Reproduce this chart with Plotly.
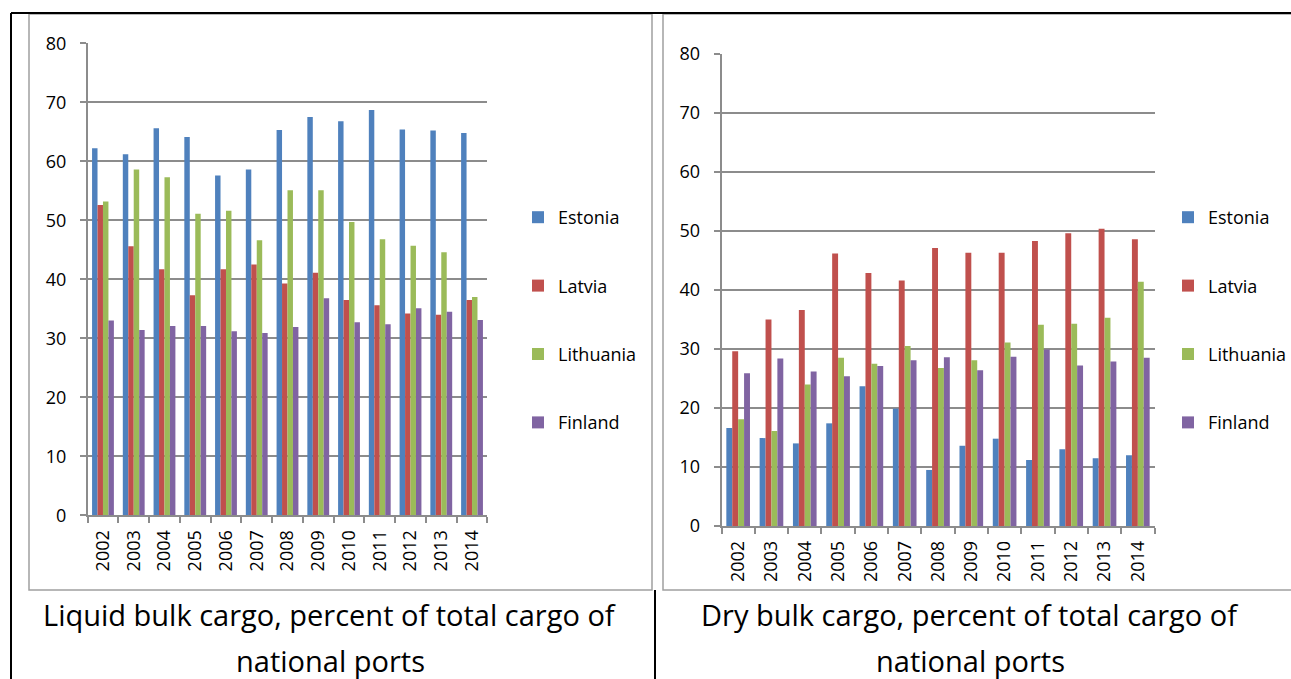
import plotly.graph_objects as go
from plotly.subplots import make_subplots

years = ['2002', '2003', '2004', '2005', '2006', '2007', '2008',
         '2009', '2010', '2011', '2012', '2013', '2014']
countries = ['Estonia', 'Latvia', 'Lithuania', 'Finland']
colors = ['#4F81BD', '#C0504D', '#9BBB59', '#8064A2']

# liquid bulk cargo, % of total cargo of national ports
liquid_estonia = [62.2, 61.2, 65.6, 64.1, 57.6, 58.6, 65.3, 67.5, 66.8, 68.7, 65.4, 65.2, 64.8]
liquid_latvia = [52.6, 45.6, 41.7, 37.3, 41.7, 42.5, 39.3, 41.1, 36.5, 35.6, 34.2, 34.0, 36.5]
liquid_lithuania = [53.2, 58.6, 57.3, 51.1, 51.6, 46.6, 55.1, 55.1, 49.7, 46.8, 45.7, 44.6, 37.0]
liquid_finland = [33.0, 31.4, 32.1, 32.1, 31.2, 30.9, 31.9, 36.8, 32.7, 32.4, 35.1, 34.5, 33.1]

# dry bulk cargo, % of total cargo of national ports
dry_estonia = [16.6, 14.9, 14.0, 17.4, 23.7, 19.9, 9.5, 13.6, 14.8, 11.2, 13.0, 11.5, 12.0]
dry_latvia = [29.6, 35.0, 36.6, 46.2, 42.9, 41.6, 47.1, 46.3, 46.3, 48.3, 49.6, 50.4, 48.6]
dry_lithuania = [18.1, 16.1, 24.0, 28.5, 27.5, 30.5, 26.8, 28.1, 31.1, 34.1, 34.3, 35.3, 41.4]
dry_finland = [25.9, 28.4, 26.2, 25.4, 27.1, 28.1, 28.6, 26.4, 28.7, 29.9, 27.2, 27.9, 28.5]

captions = ['Liquid bulk cargo, percent of total cargo of', 'Dry bulk cargo, percent of total cargo of']
caption_line2 = 'national ports'
yticks = [0, 10, 20, 30, 40, 50, 60, 70, 80]

W, H = 1291, 679
FONT = 'Open Sans'
GRID = '#8c8c8c'


def px_x(p):
    return p / W


def px_y(p):
    return 1 - p / H


fig = make_subplots(rows=1, cols=2)

liquid = [liquid_estonia, liquid_latvia, liquid_lithuania, liquid_finland]
dry = [dry_estonia, dry_latvia, dry_lithuania, dry_finland]

for i, name in enumerate(countries):
    fig.add_trace(go.Bar(x=years, y=liquid[i], name=name, marker_color=colors[i],
                         marker_line_width=0, legend='legend', legendgroup='a' + name),
                  row=1, col=1)
for i, name in enumerate(countries):
    fig.add_trace(go.Bar(x=years, y=dry[i], name=name, marker_color=colors[i],
                         marker_line_width=0, legend='legend2', legendgroup='b' + name),
                  row=1, col=2)

xcommon = dict(type='category', showgrid=False, showline=True, linecolor=GRID, linewidth=1.5,
               ticks='outside', tickson='boundaries', ticklen=6, tickcolor=GRID, tickwidth=1.5,
               tickangle=-90, tickfont=dict(family=FONT, size=18, color='black'),
               ticklabelstandoff=6, automargin=False)
ycommon = dict(range=[0, 80], tickvals=yticks, showgrid=True, gridcolor=GRID, gridwidth=1.5,
               showline=True, linecolor=GRID, linewidth=1.5, zeroline=False,
               ticks='outside', ticklen=6, tickcolor=GRID, tickwidth=1.5,
               tickfont=dict(family=FONT, size=18, color='black'), ticklabelstandoff=10,
               automargin=False)

fig.update_xaxes(**xcommon)
fig.update_yaxes(**ycommon)
fig.update_xaxes(domain=[px_x(87.6), px_x(487.4)], row=1, col=1)
fig.update_xaxes(domain=[px_x(721.5), px_x(1154.5)], row=1, col=2)
fig.update_yaxes(domain=[px_y(515.3), px_y(43.3)], row=1, col=1)
fig.update_yaxes(domain=[px_y(526), px_y(54)], row=1, col=2)

legend_style = dict(font=dict(family=FONT, size=18, color='black'), bgcolor='rgba(0,0,0,0)',
                    tracegroupgap=42, xanchor='left', yanchor='middle', itemclick=False)
fig.update_layout(
    width=W, height=H, margin=dict(l=0, r=0, t=0, b=0, autoexpand=False),
    paper_bgcolor='white', plot_bgcolor='white',
    barmode='group', bargap=0.29, bargroupgap=0,
    legend=dict(x=px_x(518), y=px_y(320), **legend_style),
    legend2=dict(x=px_x(1168), y=px_y(320), **legend_style),
    showlegend=True,
)

# chart frames
frame = dict(type='rect', xref='paper', yref='paper', line=dict(color='#a0a0a0', width=1.5),
             fillcolor='rgba(0,0,0,0)', layer='below')
fig.add_shape(x0=px_x(29), x1=px_x(652), y0=px_y(590), y1=px_y(14), **frame)
fig.add_shape(x0=px_x(663), x1=px_x(1300), y0=px_y(590), y1=px_y(14), **frame)

# document table lines
black = dict(type='line', xref='paper', yref='paper', line=dict(color='black', width=2))
fig.add_shape(x0=px_x(11), x1=px_x(11), y0=px_y(13), y1=px_y(690), **black)
fig.add_shape(x0=px_x(11), x1=px_x(1300), y0=px_y(13), y1=px_y(13), **black)
fig.add_shape(x0=px_x(655), x1=px_x(655), y0=px_y(590), y1=px_y(690), **black)

# captions
for cx, text in zip([330, 970], captions):
    fig.add_annotation(x=px_x(cx), y=px_y(614), xref='paper', yref='paper', text=text,
                       showarrow=False, xanchor='center', yanchor='middle',
                       font=dict(family=FONT, size=29, color='black'))
    fig.add_annotation(x=px_x(cx), y=px_y(660), xref='paper', yref='paper', text=caption_line2,
                       showarrow=False, xanchor='center', yanchor='middle',
                       font=dict(family=FONT, size=29, color='black'))

# pin the 1291x679 figure to the window's top-left corner
pin = ("document.body.style.margin='0';"
       "var gd=document.getElementById('{plot_id}');"
       "gd.style.position='fixed';gd.style.top='0';gd.style.left='0';")
fig.write_html('out.html', config={'displayModeBar': False}, post_script=pin)
